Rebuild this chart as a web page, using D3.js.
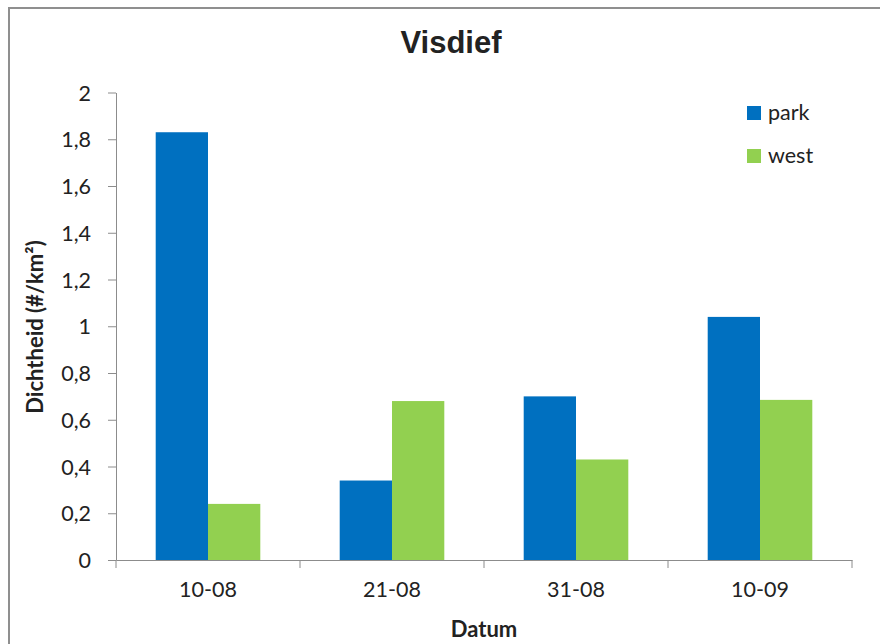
<!DOCTYPE html>
<html>
<head>
<meta charset="utf-8">
<script src="https://cdn.jsdelivr.net/npm/d3@7"></script>
<style>
  body { margin: 0; background: #fff; }
  text { font-family: Lato, "Open Sans", sans-serif; fill: #222; }
</style>
</head>
<body>
<div id="chart"></div>
<script>
// Visdief density per date, two areas
const dates = ['10-08', '21-08', '31-08', '10-09'];
const series = ['park', 'west'];
const parkValues = [1.83, 0.34, 0.70, 1.04];
const westValues = [0.24, 0.68, 0.43, 0.685];
const yTicks = [0, 0.2, 0.4, 0.6, 0.8, 1, 1.2, 1.4, 1.6, 1.8, 2];
const colors = { park: '#0070C0', west: '#92D050' };

const width = 880, height = 644;
const svg = d3.select('#chart').append('svg')
  .attr('width', width)
  .attr('height', height);

// outer frame (cropped at right/bottom like the original)
svg.append('rect')
  .attr('x', 9).attr('y', 8)
  .attr('width', 900).attr('height', 700)
  .attr('fill', 'none')
  .attr('stroke', '#8f8f8f')
  .attr('stroke-width', 2);

const x0 = d3.scaleBand().domain(dates).range([116, 852]).paddingInner(0).paddingOuter(0);
const x1 = d3.scaleBand().domain(series).range([0, 104.6]);
const y = d3.scaleLinear().domain([0, 2]).range([560, 92.5]);

const rows = dates.map((d, i) => ({ date: d, park: parkValues[i], west: westValues[i] }));

// bars
const groups = svg.append('g').selectAll('g')
  .data(rows)
  .join('g')
  .attr('transform', d => `translate(${x0(d.date) + (x0.bandwidth() - 104.6) / 2},0)`);

groups.selectAll('rect')
  .data(d => series.map(s => ({ key: s, value: d[s] })))
  .join('rect')
  .attr('x', d => x1(d.key))
  .attr('width', x1.bandwidth())
  .attr('y', d => y(d.value))
  .attr('height', d => y(0) - y(d.value))
  .attr('fill', d => colors[d.key]);

// y axis
const yAxis = svg.append('g')
  .attr('transform', 'translate(116,0)')
  .call(d3.axisLeft(y).tickValues(yTicks).tickSize(8).tickSizeOuter(0)
    .tickFormat(d => d3.format('~g')(d).replace('.', ',')));
yAxis.select('.domain').attr('stroke', '#8c8c8c');
yAxis.selectAll('line').attr('stroke', '#8c8c8c');
yAxis.selectAll('text').attr('font-size', 21.5).attr('x', -25).attr('dy', '0.35em');

// x axis
const xAxis = svg.append('g')
  .attr('transform', 'translate(0,560)')
  .call(d3.axisBottom(x0).tickSize(0).tickSizeOuter(0));
xAxis.select('.domain').attr('stroke', '#8c8c8c');
xAxis.selectAll('text').attr('font-size', 21.5).attr('y', 22).attr('dy', '0.71em');

// category separators
svg.append('g').selectAll('line')
  .data(dates.concat(['end']))
  .join('line')
  .attr('x1', (d, i) => i < dates.length ? x0(d) : x0(dates[dates.length - 1]) + x0.bandwidth())
  .attr('x2', (d, i) => i < dates.length ? x0(d) : x0(dates[dates.length - 1]) + x0.bandwidth())
  .attr('y1', 560).attr('y2', 568)
  .attr('stroke', '#8c8c8c');

// title
svg.append('text')
  .attr('x', 451).attr('y', 53)
  .attr('text-anchor', 'middle')
  .attr('font-size', 31).attr('font-weight', 'bold')
  .style('font-family', '"Liberation Sans", Arial, sans-serif')
  .text('Visdief');

// axis titles
svg.append('text')
  .attr('x', 484).attr('y', 637)
  .attr('text-anchor', 'middle')
  .attr('font-size', 22).attr('font-weight', 'bold')
  .text('Datum');

svg.append('text')
  .attr('transform', 'translate(43,327) rotate(-90)')
  .attr('text-anchor', 'middle')
  .attr('font-size', 22).attr('font-weight', 'bold')
  .text('Dichtheid (#/km²)');

// legend
const legend = svg.append('g').selectAll('g')
  .data(series)
  .join('g')
  .attr('transform', (d, i) => `translate(747,${106 + i * 43})`);
legend.append('rect')
  .attr('width', 14).attr('height', 14)
  .attr('fill', d => colors[d]);
legend.append('text')
  .attr('x', 21).attr('y', 14)
  .attr('font-size', 21.5)
  .text(d => d);
</script>
</body>
</html>
